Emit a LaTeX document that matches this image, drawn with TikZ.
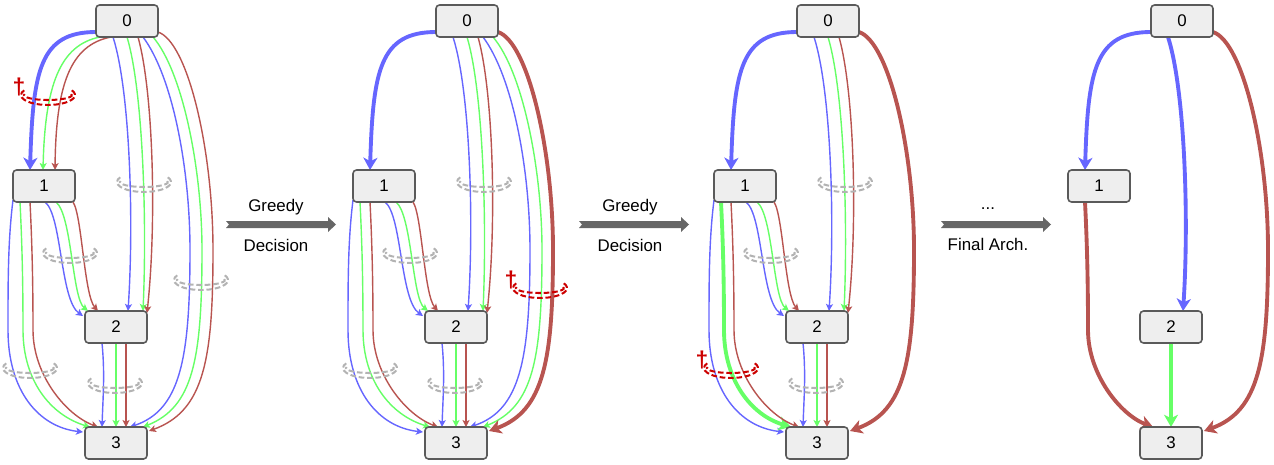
\documentclass[tikz,border=0pt]{standalone}
\usepackage{fontspec}
\setmainfont{Liberation Sans}
\usetikzlibrary{arrows.meta,backgrounds}

\definecolor{opblue}{RGB}{102,102,255}
\definecolor{opgreen}{RGB}{102,255,102}
\definecolor{opred}{RGB}{184,84,80}
\definecolor{cutred}{RGB}{204,0,0}
\definecolor{mixgray}{RGB}{179,179,179}
\definecolor{boxfill}{RGB}{238,238,238}
\definecolor{boxline}{RGB}{90,90,90}
\definecolor{stepgray}{RGB}{102,102,102}

\tikzset{
  cell/.style={draw=boxline, fill=boxfill, line width=0.9pt, rounded corners=2pt,
    minimum width=1.24cm, minimum height=0.64cm, inner sep=0pt},
  op/.style={line width=0.8pt, -{Stealth[length=4pt,width=4pt,inset=1pt]}},
  pick/.style={line width=2.2pt, -{Stealth[length=7pt,width=8pt,inset=2pt]}},
  hide/.style={draw=none},
  mix/.style={dash pattern=on 3.2pt off 1.6pt, line width=1.15pt},
}

% point at an offset (in px) from a node centre
\newcommand{\nodept}[3]{([shift={(#2,#3)}]#1.center)}
% double dashed mark on an edge
\newcommand{\mixmark}[3]{%
  \draw[mix, #3] (#1,#2) ++(-28:27 and 10) arc (-28:208:27 and 10);
  \draw[mix, #3] (#1,#2) ++(-12:24 and 5) arc (-12:192:24 and 5);
}
\newcommand{\cutmark}[2]{%
  \mixmark{#1}{#2}{cutred}
  \node[cutred, font=\fontsize{13}{14}\selectfont\bfseries] at (#1-29,#2-8) {†};
}

% edge groups: #1 panel, #2 blue, #3 green, #4 red
\newcommand{\linkZO}[4]{%
  \draw[#2] \nodept{#10}{-31}{11} .. controls +(-56,0) and +(3,-100) .. \nodept{#11}{-14}{-16};
  \draw[#3] \nodept{#10}{-27}{16} .. controls +(-40,8) and +(2,-85) .. \nodept{#11}{-1}{-16};
  \draw[#4] \nodept{#10}{-16}{16} .. controls +(-41,8) and +(1,-85) .. \nodept{#11}{11}{-16};
}
\newcommand{\linkZT}[4]{%
  \draw[#2] \nodept{#10}{-14}{16} .. controls +(17,53) and +(6,-91) .. \nodept{#12}{12}{-16};
  \draw[#3] \nodept{#10}{0}{16} .. controls +(16,53) and +(4,-91) .. \nodept{#12}{27}{-16};
  \draw[#4] \nodept{#10}{11}{16} .. controls +(15,53) and +(10,-93) .. \nodept{#12}{31}{-14};
}
\newcommand{\linkZH}[4]{%
  \draw[#2] \nodept{#10}{16}{16} .. controls +(30,40) and +(0,-80) .. ++(47,213)
    .. controls +(0,110) and +(50,-17) .. \nodept{#13}{14}{-16};
  \draw[#3] \nodept{#10}{26}{16} .. controls +(30,35) and +(0,-80) .. ++(49,213)
    .. controls +(0,110) and +(50,-20) .. \nodept{#13}{27}{-16};
  \draw[#4] \nodept{#10}{31}{11} .. controls +(30,10) and +(0,-100) .. ++(55,218)
    .. controls +(0,110) and +(55,-20) .. \nodept{#13}{33}{-12};
}
\newcommand{\linkOT}[4]{%
  \draw[#2] \nodept{#11}{1}{16} .. controls +(17,13) and +(-23,-16) .. \nodept{#12}{-33}{-11};
  \draw[#3] \nodept{#11}{12}{16} .. controls +(16,13) and +(-16,-13) .. \nodept{#12}{-28}{-16};
  \draw[#4] \nodept{#11}{29}{16} .. controls +(9,13) and +(-14,-16) .. \nodept{#12}{-18}{-16};
}
\newcommand{\linkOH}[4]{%
  \draw[#2] \nodept{#11}{-31}{14} .. controls +(-5,40) and +(0,-50) .. ++(-5,130)
    .. controls +(0,60) and +(-45,-5) .. \nodept{#13}{-33}{-11};
  \draw[#3] \nodept{#11}{-24}{16} .. controls +(2,40) and +(0,-50) .. ++(3,128)
    .. controls +(0,50) and +(-40,-12) .. \nodept{#13}{-26}{-16};
  \draw[#4] \nodept{#11}{-14}{16} .. controls +(2,40) and +(0,-50) .. ++(3,128)
    .. controls +(0,45) and +(-32,-12) .. \nodept{#13}{-18}{-16};
}
\newcommand{\linkTH}[4]{%
  \draw[#2] \nodept{#12}{-14}{16} .. controls +(3,30) and +(1,-30) .. \nodept{#13}{-14}{-16};
  \draw[#3] \nodept{#12}{0}{16} -- \nodept{#13}{0}{-16};
  \draw[#4] \nodept{#12}{10}{16} -- \nodept{#13}{10}{-16};
}

\begin{document}
\begin{tikzpicture}[x=0.02cm, y=-0.02cm, font=\fontsize{9.6}{11}\selectfont]
  \useasboundingbox (0,0) rectangle (1274,464);

  % the four stages of the cell
  \foreach \p/\dx in {a/0, b/340, c/701, d/1055} {
    \node[cell] (\p0) at (\dx+127,21) {0};
    \node[cell] (\p1) at (\dx+44,186) {1};
    \node[cell] (\p2) at (\dx+116,327) {2};
    \node[cell] (\p3) at (\dx+116,443) {3};
  }

  \begin{scope}[on background layer]
    % stage 1
    \linkZO{a}{pick,opblue}{op,opgreen}{op,opred}
    \linkZT{a}{op,opblue}{op,opgreen}{op,opred}
    \linkZH{a}{op,opblue}{op,opgreen}{op,opred}
    \linkOT{a}{op,opblue}{op,opgreen}{op,opred}
    \linkOH{a}{op,opblue}{op,opgreen}{op,opred}
    \linkTH{a}{op,opblue}{op,opgreen}{op,opred}
    % stage 2
    \linkZO{b}{pick,opblue}{hide}{hide}
    \linkZT{b}{op,opblue}{op,opgreen}{op,opred}
    \linkZH{b}{op,opblue}{op,opgreen}{pick,opred}
    \linkOT{b}{op,opblue}{op,opgreen}{op,opred}
    \linkOH{b}{op,opblue}{op,opgreen}{op,opred}
    \linkTH{b}{op,opblue}{op,opgreen}{op,opred}
    % stage 3
    \linkZO{c}{pick,opblue}{hide}{hide}
    \linkZT{c}{op,opblue}{op,opgreen}{op,opred}
    \linkZH{c}{hide}{hide}{pick,opred}
    \linkOT{c}{op,opblue}{op,opgreen}{op,opred}
    \linkOH{c}{op,opblue}{pick,opgreen}{op,opred}
    \linkTH{c}{op,opblue}{op,opgreen}{op,opred}
    % final
    \linkZO{d}{pick,opblue}{hide}{hide}
    \linkZT{d}{pick,opblue}{hide}{hide}
    \linkZH{d}{hide}{hide}{pick,opred}
    \linkOH{d}{hide}{hide}{pick,opred}
    \linkTH{d}{hide}{pick,opgreen}{hide}
  \end{scope}

  % marks on the edges
  \cutmark{48}{95}
  \foreach \x/\y in {144/182, 70/253, 201/280, 30/368, 115/383,
                     484/182, 410/253, 370/368, 455/383,
                     845/182, 771/253, 816/383} {
    \mixmark{\x}{\y}{mixgray}
  }
  \cutmark{540}{288}
  \cutmark{731}{368}

  % steps between the stages
  \foreach \x in {226,579,941} {
    \fill[stepgray] (\x,221) -- ++(102,0) -- ++(0,-4) -- ++(8,7.5) -- ++(-8,7.5)
      -- ++(0,-4) -- ++(-102,0) -- ++(3,-3.5) -- cycle;
  }
  \node[anchor=base] (g1) at (276,211.5) {Greedy};
  \node[anchor=base] (d1) at (276,251.5) {Decision};
  \node[anchor=base] (g2) at (630,211.5) {Greedy};
  \node[anchor=base] (d2) at (630,251.5) {Decision};
  \node[anchor=base] (dots) at (988,209.5) {...};
  \node[anchor=base] (fin) at (988,250.5) {Final Arch.};
\end{tikzpicture}
\end{document}
